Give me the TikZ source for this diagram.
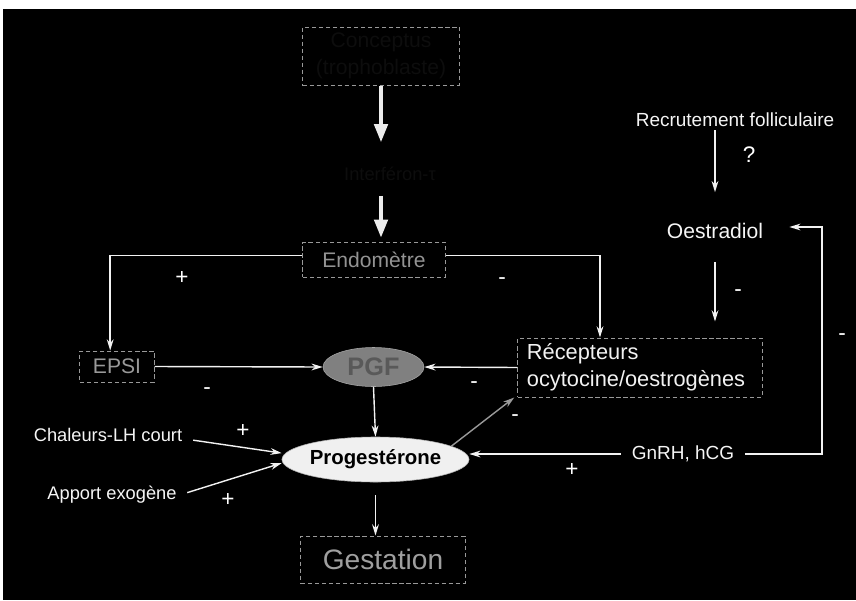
\documentclass[tikz,border=0pt]{standalone}
\usepackage{fontspec}
\setmainfont{Liberation Sans}
\usetikzlibrary{arrows.meta,shapes.geometric}

\begin{document}
\begin{tikzpicture}[x=0.025cm,y=-0.025cm,
    boite/.style={draw=gray!80,densely dashed,line width=0.7pt,inner sep=0pt},
    texte/.style={text=white!92!gray,inner sep=2pt},
    signe/.style={text=white,font=\fontsize{16}{16}\selectfont,inner sep=0pt},
    fl/.style={draw=white!90!gray,line width=1pt,-{Stealth[length=0.28cm,width=0.17cm]}},
    grosse/.style={draw=white!85!gray,line width=2.2pt,-{Triangle[length=0.45cm,width=0.34cm]}}]
    \useasboundingbox (0,0) rectangle (856,600);
    \fill[black] (3,9) rectangle (856,600);
    % colonne centrale
    \node[boite,minimum width=3.925cm,minimum height=1.45cm,align=center,
          text=gray!10!black,font=\fontsize{15}{19}\selectfont] (embryon) at (381,56)
          {Conceptus\\(trophoblaste)};
    \node[texte,text=gray!10!black,font=\fontsize{13}{13}\selectfont] (ifn) at (390,174) {Interféron-τ};
    \node[boite,minimum width=3.55cm,minimum height=0.875cm,text=gray!85,
          font=\fontsize{15}{15}\selectfont] (endo) at (374,259.5) {Endomètre};
    \node[boite,minimum width=1.85cm,minimum height=0.775cm,text=gray!80,
          font=\fontsize{15}{15}\selectfont] (epsi) at (117,366.5) {EPSI};
    \node[ellipse,draw=gray!70,fill=gray,minimum width=2.525cm,minimum height=0.975cm,
          inner sep=0pt,text=gray!70!black,font=\bfseries\fontsize{18}{18}\selectfont] (pgf) at (373.5,367) {PGF};
    \node[ellipse,draw=gray!60,fill=gray!12,minimum width=4.675cm,minimum height=1.125cm,
          inner sep=0pt,text=black,font=\bfseries\fontsize{14.5}{14.5}\selectfont] (prog) at (375.5,459.5) {Progestérone};
    \node[boite,minimum width=4.1cm,minimum height=1.175cm,text=gray!75,
          font=\fontsize{20}{20}\selectfont] (gest) at (383,559.5) {Gestation};
    % entrees a gauche
    \node[texte,font=\fontsize{13}{13}\selectfont] (chal) at (108,435) {Chaleurs-LH court};
    \node[texte,font=\fontsize{13}{13}\selectfont] (apport) at (112,495) {Apport exogène};
    % partie droite
    \node[texte,font=\fontsize{13.5}{13.5}\selectfont] (recru) at (735,120) {Recrutement folliculaire};
    \node[texte,font=\fontsize{15}{15}\selectfont] (oest) at (715,231) {Oestradiol};
    \node[boite,minimum width=6.1cm,minimum height=1.475cm,inner xsep=0.225cm,
          text width=5.65cm,align=left,text=white!90!gray,
          font=\fontsize{15.5}{19}\selectfont] (recep) at (640,367.5) {Récepteurs\\ocytocine/oestrogènes};
    \node[texte,font=\fontsize{13.5}{13.5}\selectfont] (gnrh) at (683,454) {GnRH, hCG};
    \coordinate (coin) at (822,454);

    \draw[grosse,shorten >=0.55cm] (embryon.south) -- (embryon.south |- ifn.north);
    \draw[grosse,shorten <=0.3cm,shorten >=0.1cm] (embryon.south |- ifn.south) -- (embryon.south |- endo.north);
    \draw[fl] ([yshift=0.1cm]endo.west) -| ([xshift=-0.17cm]epsi.north);
    \draw[fl] ([yshift=0.1cm]endo.east) -| ([xshift=-1cm]recep.north);
    \draw[fl] (epsi.east) -- (pgf.west);
    \draw[fl] (recep.west) -- (pgf.east);
    \draw[fl] (pgf.south) -- (prog.north);
    \draw[fl,shorten <=0.33cm] (prog.south) -- (prog.south |- gest.north);
    \draw[fl,shorten <=0.2cm] ([yshift=-0.1cm]chal.east) -- ([yshift=0.16cm]prog.west);
    \draw[fl,shorten <=0.2cm] (apport.east) -- ([yshift=-0.09cm]prog.west);
    \draw[fl,draw=gray!80] (prog.10) -- ([xshift=-0.08cm]recep.south west);
    \draw[fl,shorten <=0.2cm] (gnrh.west) -- (gnrh.west -| prog.east);
    \draw[fl,shorten <=0.2cm] (gnrh.east) -- (coin) |- ([xshift=0.58cm,yshift=0.1cm]oest.east);
    \draw[fl,shorten >=0.7cm] (oest.north |- recru.south) -- (oest.north);
    \draw[fl,shorten <=0.5cm,shorten >=0.4cm] (oest.south) -- (oest.south |- recep.north);
    % signes
    \foreach \s/\px/\py [count=\i] in {+/182/278, -/207/391, +/243/431, +/228/500, ?/749/155,
        -/738/293, -/502/281, -/474/385, -/515/418, +/572/470, -/842/337}
    \node[signe] (signe\i) at (\px,\py) {\s};
\end{tikzpicture}
\end{document}
